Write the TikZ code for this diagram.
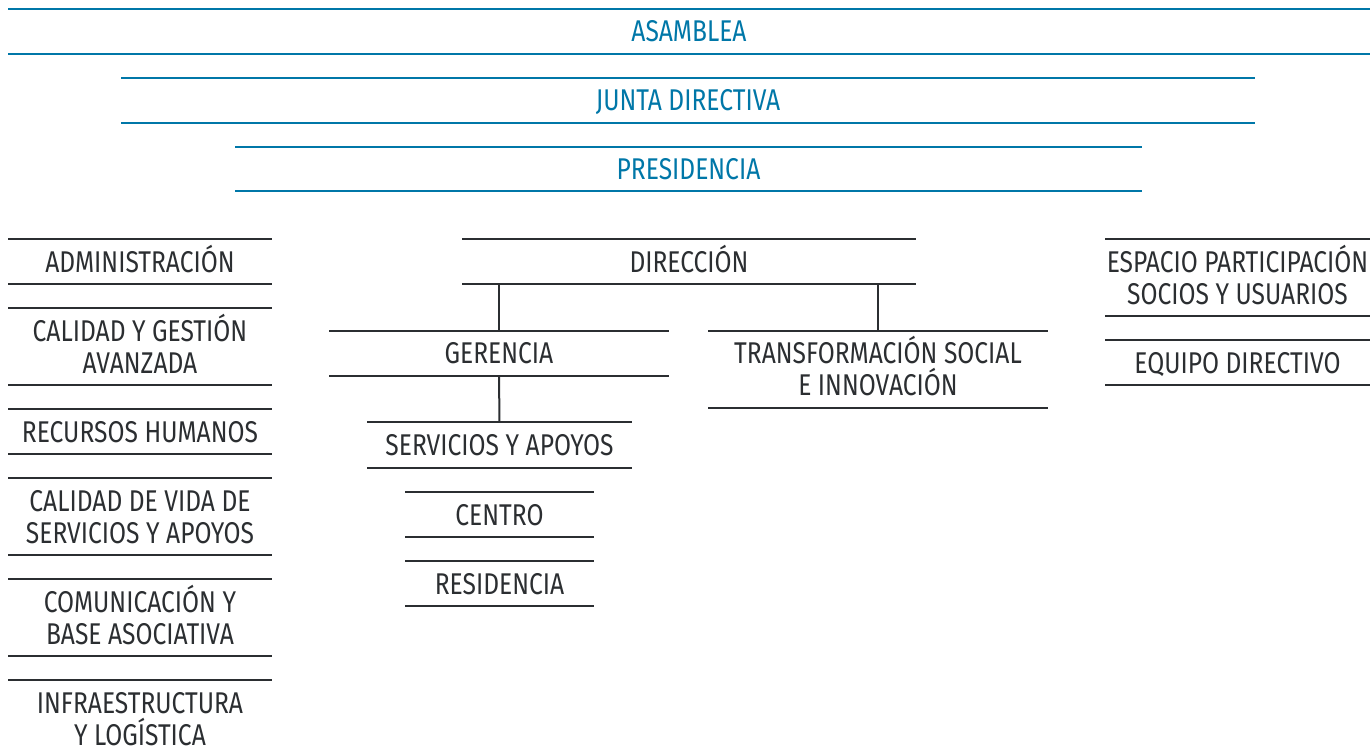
\documentclass[tikz,border=0pt]{standalone}
\usepackage{fontspec}
\setmainfont{Fira Sans}[FakeStretch=0.82]
\definecolor{blu}{HTML}{0077A8}
\definecolor{drk}{HTML}{2B2E31}
\tikzset{
  geom/.style={inner sep=0pt, outer sep=0pt, draw=none},
  bl/.style={line width=2.2pt, draw=blu},
  dl/.style={line width=2pt, draw=drk},
  bt/.style={text=blu, font=\fontsize{30}{32}\selectfont, align=center, inner sep=0pt, anchor=base},
  dt/.style={text=drk, font=\fontsize{30}{32}\selectfont, align=center, inner sep=0pt, anchor=base},
  conn/.style={line width=2pt, draw=drk}
}
% name, x1, x2, ytop, ybot, baseline of last line, text, kind
\newcommand\mkbox[8]{%
  \node[geom, minimum width={(#3-#2)*1pt}, minimum height={(#5-#4)*1pt}] (#1) at ({(#2+#3)/2},{(#4+#5)/2}) {};
  \draw[#8l] (#1.north west) -- (#1.north east) (#1.south west) -- (#1.south east);
  \node[#8t] (#1t) at ({(#2+#3)/2},#6) {#7};
}
\begin{document}
\begin{tikzpicture}[x=1pt,y=-1pt]
\useasboundingbox (0,0) rectangle (1370,754);
\mkbox{asa}{8}{1370}{9}{54}{42}{ASAMBLEA}{b}
\mkbox{jun}{121}{1255}{78}{123}{111}{JUNTA DIRECTIVA}{b}
\mkbox{pre}{235}{1142}{147}{191}{180}{PRESIDENCIA}{b}
% left column
\mkbox{adm}{8}{272}{239}{284}{272}{ADMINISTRACIÓN}{d}
\mkbox{cal}{8}{272}{308}{385}{373}{CALIDAD Y GESTIÓN\\AVANZADA}{d}
\mkbox{rrhh}{8}{272}{409}{454}{442}{RECURSOS HUMANOS}{d}
\mkbox{cvs}{8}{272}{478}{555}{543}{CALIDAD DE VIDA DE\\SERVICIOS Y APOYOS}{d}
\mkbox{com}{8}{272}{579}{656}{644}{COMUNICACIÓN Y\\BASE ASOCIATIVA}{d}
\mkbox{inf}{8}{272}{680}{757}{745}{INFRAESTRUCTURA\\Y LOGÍSTICA}{d}
% centre
\mkbox{dir}{462}{916}{239}{284}{272}{DIRECCIÓN}{d}
\mkbox{ger}{329}{669}{331}{376}{363}{GERENCIA}{d}
\mkbox{tra}{708}{1048}{331}{408}{395}{TRANSFORMACIÓN SOCIAL\\E INNOVACIÓN}{d}
\mkbox{ser}{367}{632}{422}{468}{455}{SERVICIOS Y APOYOS}{d}
\mkbox{cen}{405}{594}{492}{537}{525}{CENTRO}{d}
\mkbox{res}{405}{594}{561}{606}{594}{RESIDENCIA}{d}
% right column
\mkbox{esp}{1105}{1370}{239}{316}{304}{ESPACIO PARTICIPACIÓN\\SOCIOS Y USUARIOS}{d}
\mkbox{equ}{1105}{1370}{340}{385}{373}{EQUIPO DIRECTIVO}{d}
% connectors
\draw[conn] (ger.north |- dir.south) -- (ger.north);
\draw[conn] (tra.north |- dir.south) -- (tra.north);
\draw[conn] (ger.south) -- (ser.north);
\end{tikzpicture}
\end{document}
